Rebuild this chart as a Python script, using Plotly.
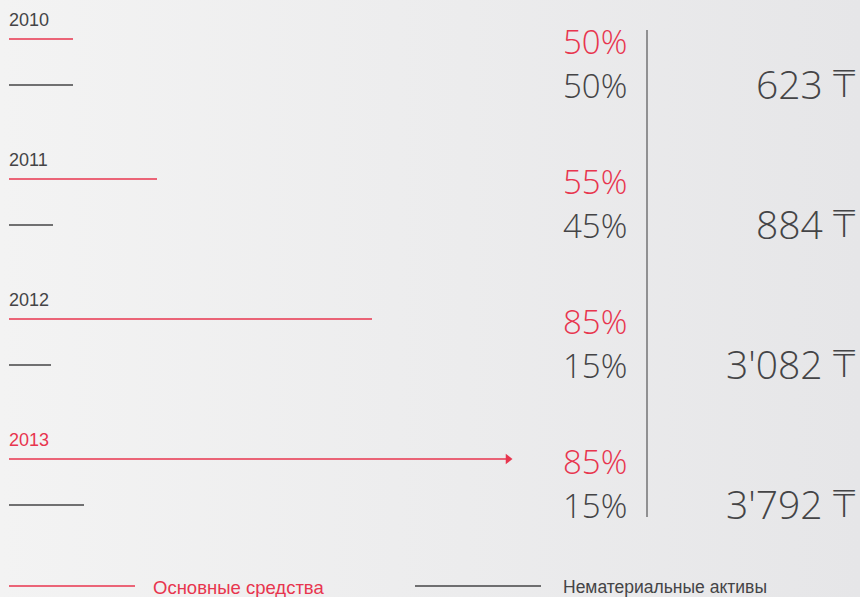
import plotly.graph_objects as go

# Structure of assets by year
years = ["2010", "2011", "2012", "2013"]
fixed_share = [50, 55, 85, 85]        # Основные средства, %
intangible_share = [50, 45, 15, 15]   # Нематериальные активы, %
totals = ["623", "884", "3'082", "3'792"]
# Bar lengths drawn for each year (chart units)
fixed_len = [64, 148, 363, 503]
intangible_len = [64, 44, 42, 75]

RED = "#e8354e"
DARK = "#444446"
W, H = 860, 597
NUM_FONT = "Open Sans, Liberation Sans, Arial, sans-serif"

fig = go.Figure()

# Background wash
fig.add_trace(go.Scatter(
    x=[0, W, W, 0, 0], y=[0, 0, H, H, 0], mode="lines", fill="toself",
    line=dict(width=0),
    fillgradient=dict(type="horizontal",
                      colorscale=[[0, "#f3f3f3"], [1, "#e6e6e8"]]),
    hoverinfo="skip", showlegend=False))

x0 = 9
row_top = 20
row_step = 140

for i, yr in enumerate(years):
    base = row_top + i * row_step
    y_red = base + 19
    y_blk = base + 65
    # year label
    fig.add_annotation(x=x0 - 2, y=base, text=yr, showarrow=False,
                       xanchor="left", yanchor="middle",
                       font=dict(size=18, color=RED if i == 3 else DARK))
    # fixed assets bar
    last = i == len(years) - 1
    fig.add_trace(go.Scatter(
        x=[x0, x0 + fixed_len[i] - (6 if last else 0)], y=[y_red, y_red],
        mode="lines", line=dict(color=RED, width=1.3),
        hoverinfo="skip", showlegend=False))
    if last:
        fig.add_trace(go.Scatter(
            x=[x0 + fixed_len[i] - 4], y=[y_red], mode="markers",
            marker=dict(symbol="triangle-right", size=9, color=RED),
            hoverinfo="skip", showlegend=False))
    # intangible assets bar
    fig.add_trace(go.Scatter(
        x=[x0, x0 + intangible_len[i]], y=[y_blk, y_blk],
        mode="lines", line=dict(color=DARK, width=1.3),
        hoverinfo="skip", showlegend=False))
    # percentages
    fig.add_annotation(x=629, y=base + 21, text=f"{fixed_share[i]}%",
                       showarrow=False, xanchor="right", yanchor="middle",
                       font=dict(size=33, color=RED, family=NUM_FONT,
                                 weight=300))
    fig.add_annotation(x=629, y=base + 65, text=f"{intangible_share[i]}%",
                       showarrow=False, xanchor="right", yanchor="middle",
                       font=dict(size=33, color=DARK, family=NUM_FONT,
                                 weight=300))
    # totals: amount, then the tenge sign
    fig.add_annotation(x=825, y=base + 63, text=totals[i],
                       showarrow=False, xanchor="right", yanchor="middle",
                       font=dict(size=39, color=DARK, family=NUM_FONT,
                                 weight=300))
    fig.add_annotation(x=858, y=base + 64, text="\u20b8",
                       showarrow=False, xanchor="right", yanchor="middle",
                       font=dict(size=38, color=DARK,
                                 family="DejaVu Sans, sans-serif",
                                 weight=200))

# Vertical divider
fig.add_shape(type="line", x0=647, x1=647, y0=30, y1=517,
              line=dict(color="#555557", width=1.2))

# Legend
fig.add_shape(type="line", x0=9, x1=135, y0=586, y1=586,
              line=dict(color=RED, width=1.3))
fig.add_annotation(x=151, y=587, text="Основные средства", showarrow=False,
                   xanchor="left", yanchor="middle",
                   font=dict(size=18.5, color=RED))
fig.add_shape(type="line", x0=415, x1=541, y0=586, y1=586,
              line=dict(color=DARK, width=1.3))
fig.add_annotation(x=561, y=587, text="Нематериальные активы", showarrow=False,
                   xanchor="left", yanchor="middle",
                   font=dict(size=17.5, color=DARK))

fig.update_layout(
    width=W, height=H,
    margin=dict(l=0, r=0, t=0, b=0),
    paper_bgcolor="#ececec", plot_bgcolor="#ececec",
    font=dict(family="Liberation Sans, Arial, sans-serif"),
    xaxis=dict(range=[0, W], visible=False, fixedrange=True),
    yaxis=dict(range=[H, 0], visible=False, fixedrange=True),
    showlegend=False,
)

fig.write_html("out.html", config={"displayModeBar": False})
